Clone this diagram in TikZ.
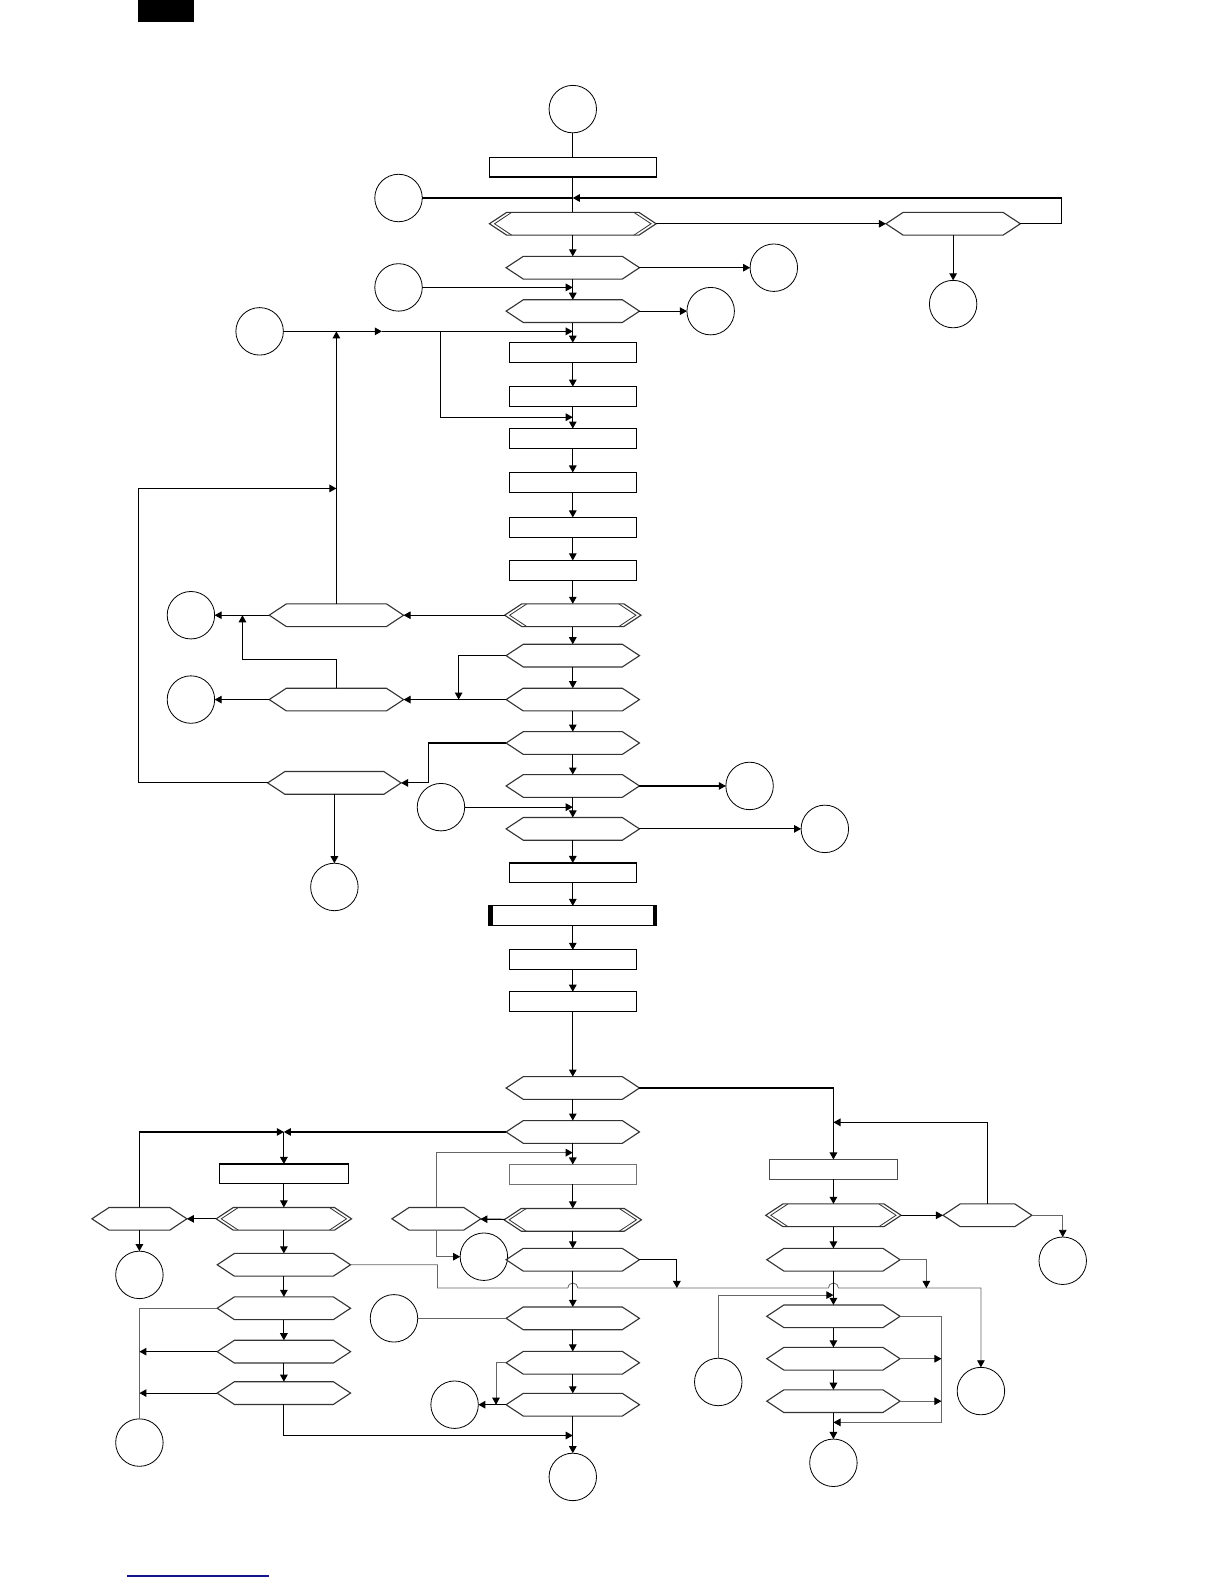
\documentclass[tikz,border=0pt]{standalone}
\usetikzlibrary{shapes.symbols,arrows.meta,calc}
\definecolor{lnkBlue}{RGB}{20,20,140}
\tikzset{
  basebox/.style={inner sep=0pt,outer sep=0pt,draw=black,line width=1.1pt},
  rectbox/.style={basebox,rectangle,minimum width=126pt,minimum height=19.5pt},
  procbox/.style={rectbox,minimum width=166pt,
    path picture={
      \fill (path picture bounding box.south west) rectangle ([xshift=4pt]path picture bounding box.north west);
      \fill (path picture bounding box.south east) rectangle ([xshift=-4pt]path picture bounding box.north east);}},
  hexbox/.style={basebox,draw=black!80,signal,signal to=west and east,
                 signal pointer angle=67,minimum width=132pt,minimum height=22.5pt},
  dblhex/.style={hexbox,
    path picture={
      \draw[line width=0.8pt]
        ([xshift=22pt]path picture bounding box.north west) -- ([xshift=5pt]path picture bounding box.west)
          -- ([xshift=22pt]path picture bounding box.south west)
        ([xshift=-22pt]path picture bounding box.north east) -- ([xshift=-5pt]path picture bounding box.east)
          -- ([xshift=-22pt]path picture bounding box.south east);}},
  conn/.style={circle,draw=black,line width=0.8pt,minimum size=47pt,inner sep=0pt,outer sep=0pt},
  ln/.style={line width=1.1pt},
  arr/.style={ln,-{Triangle[length=7pt,width=7.5pt]}},
  gln/.style={line width=0.8pt,color=black!60},
  garr/.style={gln,-{Triangle[length=7pt,width=7.5pt,color=black]}}
}
\begin{document}
\begin{tikzpicture}[x=1pt,y=-1pt]
  \useasboundingbox (0,0) rectangle (1212,1568);
  \fill (137,0) rectangle (192,22);
  \draw[lnkBlue,line width=1.4pt] (126,1560) -- (266,1560);

  % main column
  \node[conn] (c1) at (567,108) {};
  \node[rectbox,minimum width=165pt] (r1) at (567,165.5) {};
  \node[dblhex,minimum width=165pt] (d1) at (567,221.5) {};
  \node[hexbox] (h2) at (567,265) {};
  \node[hexbox] (h3) at (567,308) {};
  \node[rectbox] (r2) at (567,349) {};
  \node[rectbox] (r3) at (567,392.5) {};
  \node[rectbox] (r4) at (567,434) {};
  \node[rectbox] (r5) at (567,477.5) {};
  \node[rectbox] (r6) at (567,522) {};
  \node[rectbox] (r7) at (567,564.5) {};
  \node[dblhex,minimum width=135pt] (d2) at (567,609) {};
  \node[hexbox] (h5) at (567,649) {};
  \node[hexbox] (h6) at (567,692.5) {};
  \node[hexbox] (h9) at (567,735.5) {};
  \node[hexbox] (h10) at (567,778) {};
  \node[hexbox] (h11) at (567,820.5) {};
  \node[rectbox] (r8) at (567,864) {};
  \node[procbox] (r9) at (567,906.5) {};
  \node[rectbox] (r10) at (567,950) {};
  \node[rectbox] (r11) at (567,991.5) {};
  \node[hexbox] (h12) at (567,1077) {};
  \node[hexbox] (h13) at (567,1120.5) {};

  % side branches, upper half
  \node[hexbox,minimum width=133pt] (hr) at (943.5,221.5) {};
  \node[conn] (c3) at (943.5,301) {};
  \node[conn] (c2) at (394.5,196) {};
  \node[conn] (c4) at (766,265) {};
  \node[conn] (c5) at (394.5,284.5) {};
  \node[conn] (c6) at (703.5,308) {};
  \node[conn] (c7) at (257,328) {};
  \node[hexbox,minimum width=133pt] (h4) at (333,609) {};
  \node[conn] (c8) at (189,609) {};
  \node[hexbox,minimum width=133pt] (h7) at (333,692.5) {};
  \node[conn] (c9) at (189,692.5) {};
  \node[hexbox] (h8) at (331,775) {};
  \node[conn] (c10) at (331,878) {};
  \node[conn] (c11) at (742,778) {};
  \node[conn] (c12) at (436.5,799) {};
  \node[conn] (c13) at (816.5,820.5) {};

  % lower left
  \node[rectbox,minimum width=128pt] (rl) at (281,1162) {};
  \node[dblhex,minimum width=134pt] (dl) at (281,1206.5) {};
  \node[hexbox,minimum width=94pt] (hll) at (138,1206.5) {};
  \node[conn] (c14) at (138,1262) {};
  \node[hexbox] (hl2) at (281,1252) {};
  \node[hexbox] (hl3) at (281,1295) {};
  \node[hexbox] (hl4) at (281,1338) {};
  \node[hexbox] (hl5) at (281,1379) {};
  \node[conn] (c19) at (138,1428) {};

  % lower middle
  \node[rectbox,draw=black!55] (rm) at (567,1162.5) {};
  \node[dblhex,minimum width=136pt] (dm) at (567,1207.5) {};
  \node[hexbox,minimum width=88pt] (hml) at (432,1206.5) {};
  \node[conn] (c15) at (479,1244) {};
  \node[hexbox] (hm2) at (567,1247) {};
  \node[hexbox] (hm3) at (567,1305) {};
  \node[conn] (c16) at (390,1305) {};
  \node[hexbox] (hm4) at (567,1349) {};
  \node[hexbox] (hm5) at (567,1390.5) {};
  \node[conn] (c17) at (450,1390.5) {};
  \node[conn] (c18) at (567,1462) {};

  % lower right
  \node[rectbox,draw=black!70] (rr) at (825,1157.5) {};
  \node[dblhex,minimum width=134pt] (dr) at (825,1203) {};
  \node[hexbox,minimum width=88pt] (hrr) at (977.5,1203) {};
  \node[conn] (c20) at (1052,1248) {};
  \node[hexbox] (hr2) at (825,1247) {};
  \node[hexbox] (hr3) at (825,1303) {};
  \node[hexbox] (hr4) at (825,1345) {};
  \node[hexbox] (hr5) at (825,1387) {};
  \node[conn] (cr3) at (971,1377) {};
  \node[conn] (c21) at (711,1368) {};
  \node[conn] (c22) at (825,1448) {};

  % junctions
  \coordinate (m7) at (378,328);
  \coordinate (j7) at (567,328);
  \coordinate (b7) at (436,328);
  \coordinate (b4) at (567,413);
  \coordinate (lp) at (137,483.5);
  \coordinate (j5) at (454,692.5);
  \coordinate (j9) at (240,653);
  \coordinate (j8) at (424,775);
  \coordinate (jrr) at (825,1111);
  \coordinate (jl) at (281,1120.5);
  \coordinate (jm) at (567,1421);
  \coordinate (jmt) at (567,1141);
  \coordinate (jh1) at (433,1275);
  \coordinate (jh2) at (670,1275);
  \coordinate (jh3) at (917,1275);
  \coordinate (jm4) at (491,1390.5);
  \coordinate (jc21) at (825,1282);
  \coordinate (jr3) at (932,1408);

  % upper connectors
  \draw[ln] (c1) -- (r1);
  \draw[ln] (r1) -- (d1);
  \draw[ln] (c2) -- (c2 -| d1.north);
  \draw[arr] (hr.east) -- ++(41,0) |- (c2 -| d1.north);
  \draw[arr] (d1) -- (hr);
  \draw[arr] (hr) -- (c3);
  \draw[arr] (d1) -- (h2);
  \draw[arr] (h2) -- (c4);
  \draw[arr] (h2) -- (h3);
  \draw[arr] (c5) -- (c5 -| h3.south);
  \draw[arr] (h3) -- (c6);
  \draw[arr] (h3) -- (r2);
  \draw[arr] (c7) -- (m7);
  \draw[arr] (m7) -- (j7);
  \draw[arr] (b7) |- (b4);
  \foreach \f/\t in {r2/r3,r3/r4,r4/r5,r5/r6,r6/r7,r7/d2}
    \draw[arr] (\f) -- (\t);
  \draw[arr] (d2) -- (h4);
  \draw[arr] (h4) -- (c8);
  \draw[arr] (h4.north) -- (h4.north |- j7);
  \draw[arr] (h8.west) -| (lp) -- (lp -| h4.north);
  \draw[arr] (d2) -- (h5);
  \draw[arr] (h5.west) -| (j5);
  \draw[arr] (h5) -- (h6);
  \draw[arr] (h6) -- (h7);
  \draw[arr] (h7) -- (c9);
  \draw[arr] (h7.north) |- (j9) -- (j9 |- c8);
  \draw[arr] (h6) -- (h9);
  \draw[arr] (h9.west) -| (j8) -- (h8.east);
  \draw[arr] (h8) -- (c10);
  \draw[arr] (h9) -- (h10);
  \draw[arr] (h10) -- (c11);
  \draw[arr] (h10) -- (h11);
  \draw[arr] (c12) -- (c12 -| h10.south);
  \draw[arr] (h11) -- (c13);
  \foreach \f/\t in {h11/r8,r8/r9,r9/r10,r10/r11,r11/h12,h12/h13}
    \draw[arr] (\f) -- (\t);

  % lower connectors
  \draw[arr] (h12.east) -| (rr.north);
  \draw[arr] (hrr.north) |- (jrr);
  \draw[arr] (h13.west) -- (jl);
  \draw[arr] (hll.north) |- (jl);
  \draw[arr] (jl) -- (rl);
  \foreach \f/\t in {rl/dl,dl/hll,hll/c14,dl/hl2,hl2/hl3,hl3/hl4,hl4/hl5}
    \draw[arr] (\f) -- (\t);
  \draw[gln] (hl3.west) -| (c19.north);
  \draw[arr] (hl4.west) -- (hl4.west -| c19.north);
  \draw[arr] (hl5.west) -- (hl5.west -| c19.north);
  \draw[arr] (hl5.south) |- (jm);
  \draw[garr] (hl2.east) -| (jh1) -- ($(jh1 -| hm2.south)+(-5,0)$)
    arc[start angle=180,end angle=360,radius=5]
    -- ($(jh1 -| hr2.south)+(-5,0)$) arc[start angle=180,end angle=360,radius=5]
    -| (cr3.north);

  \draw[arr] (h13) -- (rm);
  \draw[garr] (hml.north) |- (jmt);
  \foreach \f/\t in {rm/dm,dm/hml,dm/hm2,hm2/hm3,hm3/hm4,hm4/hm5,hm5/c17,hm5/c18}
    \draw[arr] (\f) -- (\t);
  \draw[garr] (hml.south) |- (c15.west);
  \draw[arr] (hm2.east) -| (jh2);
  \draw[gln] (c16) -- (hm3);
  \draw[garr] (hm4.west) -| (jm4);

  \foreach \f/\t in {rr/dr,dr/hrr,dr/hr2,hr2/hr3,hr3/hr4,hr4/hr5,hr5/c22}
    \draw[arr] (\f) -- (\t);
  \draw[garr] (hrr.east) -| (c20.north);
  \draw[garr] (hr2.east) -| (jh3);
  \draw[garr] (c21.north) |- (jc21);
  \draw[garr] (hr3.east) -| (jr3) -- (jr3 -| hr5.south);
  \draw[garr] (hr4) -- (hr4 -| jr3);
  \draw[garr] (hr5) -- (hr5 -| jr3);
\end{tikzpicture}
\end{document}
